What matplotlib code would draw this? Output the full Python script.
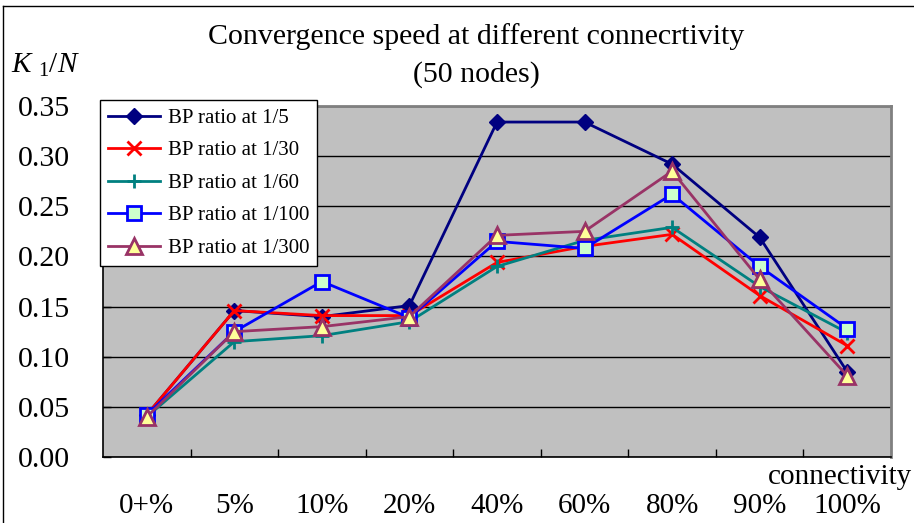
import numpy as np
import matplotlib
matplotlib.use('Agg')
import matplotlib.pyplot as plt
from matplotlib.lines import Line2D

plt.rcParams['font.family'] = ['Liberation Serif', 'DejaVu Serif']
plt.rcParams['mathtext.fontset'] = 'custom'
plt.rcParams['mathtext.rm'] = 'Liberation Serif'
plt.rcParams['mathtext.it'] = 'Liberation Serif:italic'

# connectivity levels and K1/N values for each BP ratio
categories = ['0+%', '5%', '10%', '20%', '40%', '60%', '80%', '90%', '100%']
bp_5 = [0.042, 0.146, 0.140, 0.151, 0.334, 0.334, 0.292, 0.219, 0.085]
bp_30 = [0.042, 0.146, 0.141, 0.141, 0.194, 0.210, 0.222, 0.161, 0.111]
bp_60 = [0.040, 0.115, 0.121, 0.135, 0.190, 0.216, 0.229, 0.170, 0.124]
bp_100 = [0.042, 0.125, 0.175, 0.139, 0.215, 0.208, 0.262, 0.190, 0.128]
bp_300 = [0.040, 0.125, 0.130, 0.140, 0.221, 0.225, 0.285, 0.177, 0.081]
series_labels = ['BP ratio at 1/5', 'BP ratio at 1/30', 'BP ratio at 1/60',
                 'BP ratio at 1/100', 'BP ratio at 1/300']
y_ticks = [0.00, 0.05, 0.10, 0.15, 0.20, 0.25, 0.30, 0.35]

styles = [
    dict(color='#000080', marker='D', ms=8.5, mfc='#000080', mec='#000080', mew=1),
    dict(color='#FF0000', marker='x', ms=10, mec='#FF0000', mew=2),
    dict(color='#008080', marker='+', ms=10, mec='#008080', mew=2),
    dict(color='#0000FF', marker='s', ms=10, mfc='#CCFFCC', mec='#0000FF', mew=2),
    dict(color='#993366', marker='^', ms=11, mfc='#FFFF99', mec='#993366', mew=2),
]

fig = plt.figure(figsize=(9.14, 5.23), dpi=100)
ax = fig.add_axes([103 / 914, 1 - 457 / 523, 788 / 914, 351 / 523])
ax.set_facecolor('#C0C0C0')

x = np.arange(len(categories))
for vals, lab, st in zip([bp_5, bp_30, bp_60, bp_100, bp_300], series_labels, styles):
    ax.plot(x, vals, lw=2, label=lab, **st)

ax.set_xlim(-0.5, len(categories) - 0.5)
ax.set_ylim(0, 0.35)
ax.set_yticks(y_ticks)
ax.set_yticklabels([f'{v:.2f}' for v in y_ticks])
ax.yaxis.grid(True, color='black', lw=1)
ax.set_axisbelow(True)

# labels sit under category centres, tick marks on the boundaries
ax.set_xticks(x)
ax.set_xticklabels(categories)
ax.set_xticks(np.arange(0.5, len(categories) - 0.5, 1), minor=True)
ax.tick_params(axis='x', which='major', length=0, pad=26, labelsize=21)
ax.tick_params(axis='x', which='minor', direction='in', length=6, width=1)
ax.tick_params(axis='y', direction='in', length=6, width=1, pad=24, labelsize=21.5)

for side in ['left', 'bottom']:
    ax.spines[side].set_color('black')
    ax.spines[side].set_linewidth(1.2)
for side in ['top', 'right']:
    ax.spines[side].set_color('#808080')
    ax.spines[side].set_linewidth(2)

leg = ax.legend(loc='upper left', bbox_to_anchor=(-3 / 788, (457 - 100) / 351),
                borderaxespad=0, fontsize=15,
                frameon=True, fancybox=False, edgecolor='black', framealpha=1,
                handlelength=2.5, labelspacing=0.62, borderpad=0.4,
                handletextpad=0.34)
leg.get_frame().set_linewidth(1)

fig.text(0.521, 0.931, 'Convergence speed at different connecrtivity',
         ha='center', va='center', fontsize=21.5)
fig.text(0.521, 0.858, '(50 nodes)', ha='center', va='center', fontsize=21.5)
fig.text(0.012, 0.875, r'$K\ _{1}/N$', ha='left', va='center', fontsize=21)
fig.text(0.998, 0.088, 'connectivity', ha='right', va='center', fontsize=21)

# outer chart border
fig.add_artist(Line2D([3 / 914, 3 / 914], [0, 1 - 6 / 523], color='black', lw=1,
                      transform=fig.transFigure))
fig.add_artist(Line2D([3 / 914, 1], [1 - 6 / 523, 1 - 6 / 523], color='black', lw=1,
                      transform=fig.transFigure))

fig.savefig('out.png', dpi=100)
